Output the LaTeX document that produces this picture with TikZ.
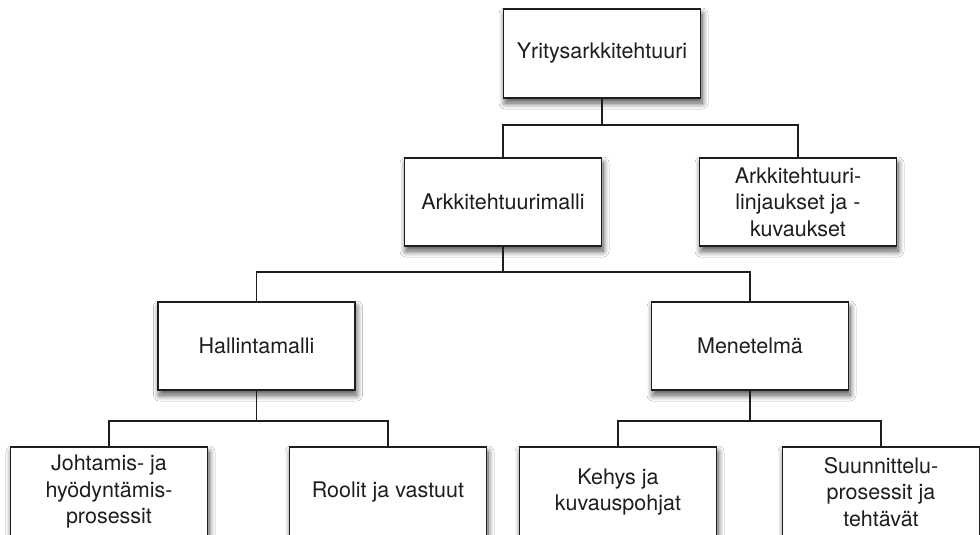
\documentclass[tikz,border=0pt]{standalone}
\usepackage{fontspec}
\setmainfont{TeX Gyre Heros}
\usetikzlibrary{shadows.blur}
\definecolor{ink}{HTML}{1E1E1E}
\tikzset{
  orgbox/.style={draw=ink, line width=1.6pt, fill=white, rectangle,
    minimum width=197pt, minimum height=88pt, inner sep=0pt,
    align=center, text=ink,
    font=\fontsize{21.5}{26.5}\selectfont,
    blur shadow={shadow xshift=1.5pt, shadow yshift=-5pt,
      shadow blur radius=6pt, shadow blur steps=12, shadow opacity=70}},
  link/.style={draw=ink, line width=1.6pt}
}
\begin{document}
\begin{tikzpicture}[x=1pt, y=-1pt]
\useasboundingbox[fill=white] (0,0) rectangle (980,535);

% boxes of the hierarchy
\node[orgbox, minimum height=89pt] (yritys) at (602,53.5) {Yritysarkkitehtuuri};
\node[orgbox] (malli) at (503,202) {Arkkitehtuurimalli};
\node[orgbox] (linj) at (798,202) {Arkkitehtuuri-\\linjaukset ja -\\kuvaukset};
\node[orgbox] (hallinta) at (256.5,346) {Hallintamalli};
\node[orgbox] (menet) at (750,346) {Menetelmä};
\node[orgbox, minimum height=90pt] (johtamis) at (109,492) {Johtamis- ja\\hyödyntämis-\\prosessit};
\node[orgbox, minimum height=90pt] (roolit) at (388,492) {Roolit ja vastuut};
\node[orgbox, minimum height=90pt] (kehys) at (618,492) {Kehys ja\\kuvauspohjat};
\node[orgbox, minimum height=90pt] (suunn) at (881,492) {Suunnittelu-\\prosessit ja\\tehtävät};

% junction points of the connector bars
\coordinate (j1) at (602,125);
\coordinate (j2) at (503,272);
\coordinate (j3) at (256.5,421);
\coordinate (j4) at (750,421);

% connectors
\draw[link] (yritys.south) -- (j1);
\draw[link] (malli.north) |- (j1) -| (linj.north);
\draw[link] (malli.south) -- (j2);
\draw[link] (hallinta.north) |- (j2) -| (menet.north);
\draw[link] (hallinta.south) -- (j3);
\draw[link] (johtamis.north) |- (j3) -| (roolit.north);
\draw[link] (menet.south) -- (j4);
\draw[link] (kehys.north) |- (j4) -| (suunn.north);
\end{tikzpicture}
\end{document}
